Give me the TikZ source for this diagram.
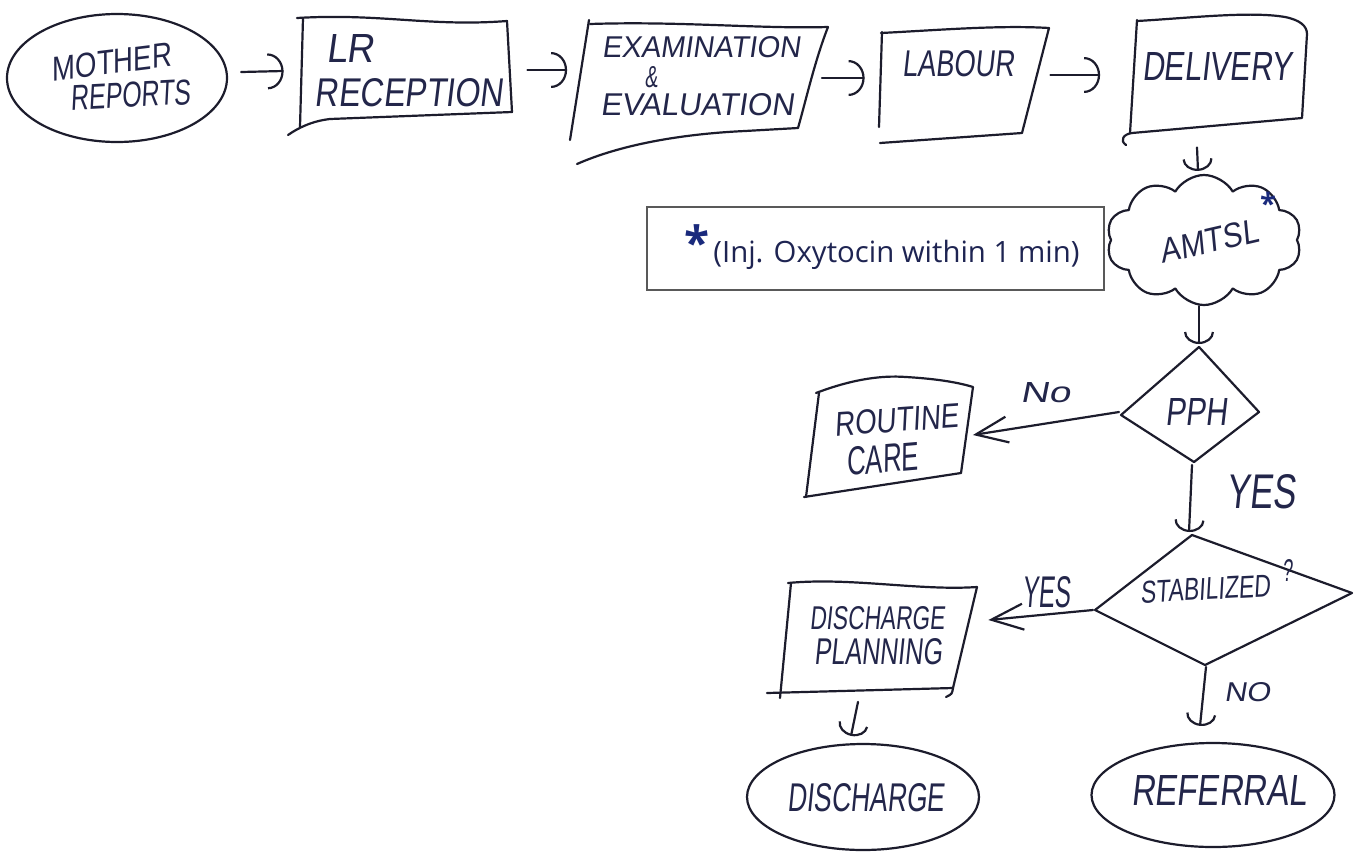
\documentclass[tikz,border=0pt]{standalone}
\usepackage{fontspec}
\usepackage{graphicx}
\newfontfamily\handfont{Liberation Sans}[FakeSlant=0.15]
\newfontfamily\notefont{Open Sans}
\usetikzlibrary{arrows.meta,shapes.geometric,shapes.symbols,calc}
\definecolor{ink}{HTML}{23264A}
\definecolor{pen}{HTML}{1C1C2C}
\definecolor{starblue}{HTML}{1A2A7C}
\definecolor{notetext}{HTML}{1E2452}
\newcommand{\hw}[3]{\resizebox{#1pt}{#2pt}{\handfont #3}}
\begin{document}
\begin{tikzpicture}[x=0.5pt,y=-0.5pt,
  pen/.style={draw=pen, line width=1.1pt, line cap=round, line join=round},
  flow/.style={pen, -{Arc Barb[length=8pt,width=18pt]}},
  down/.style={pen, -{Arc Barb[length=6pt,width=15pt]}},
  side/.style={pen, -{Straight Barb[length=16pt,width=13pt]}},
  hand/.style={inner sep=0pt, text=ink},
  anchorbox/.style={draw=none, inner sep=0pt, rectangle}]
\fill[white] (0,0) rectangle (1360,852);
\useasboundingbox (0,0) rectangle (1360,852);

% Mother reports
\node[pen, ellipse, minimum width=110pt, minimum height=64pt, inner sep=0] (mother) at (117,78) {};
\node[hand, rotate=7] (motherA) at (111,62) {\hw{60}{12}{MOTHER}};
\node[hand, rotate=3] (motherB) at (130,95) {\hw{60}{12.5}{REPORTS}};

% LR reception
\node[anchorbox, minimum width=104pt, minimum height=55pt] (lr) at (405,75) {};
\draw[pen] (303,18) -- (300,127);
\draw[pen] (297,18) .. controls (380,13) and (430,27) .. (507,21) -- (512,112) -- (330,119) .. controls (312,121) and (298,128) .. (288,135);
\node[hand] (lrA) at (350,48) {\hw{24}{14}{LR}};
\node[hand] (lrB) at (409,93) {\hw{94}{14}{RECEPTION}};
\draw[flow] ($(mother.east)+(13,-6)$) -- ($(lr.west)+(-17,-4)$);

% Examination & evaluation
\node[anchorbox, minimum width=126.5pt, minimum height=59pt] (exam) at (700,81) {};
\draw[pen] (589,20) -- (570,140);
\draw[pen] (590,24) .. controls (680,21) and (760,29) .. (828,27) .. controls (815,60) and (806,100) .. (798,128) -- (745,131) .. controls (680,134) and (620,145) .. (577,164);
\node[hand] (examA) at (701,47) {\hw{99}{10.5}{EXAMINATION}};
\node[hand] (examB) at (651,77) {\hw{6.5}{10.5}{\&}};
\node[hand] (examC) at (697,105) {\hw{96.5}{11}{EVALUATION}};
\draw[flow] ($(lr.east)+(18,-5)$) -- ($(exam.west)+(-6,-11)$);

% Labour
\node[anchorbox, minimum width=85pt, minimum height=55pt] (labour) at (965,85) {};
\draw[pen] (882,32) -- (879,127);
\draw[pen] (881,33) .. controls (940,30) and (1000,25) .. (1049,28) -- (1022,133) -- (880,143);
\node[hand] (labourA) at (958,64) {\hw{56}{13}{LABOUR}};
\draw[flow] ($(exam.east)+(-5,-3)$) -- ($(labour.west)+(-15,-7)$);

% Delivery
\node[anchorbox, minimum width=88.5pt, minimum height=61pt] (delivery) at (1218,78) {};
\draw[pen] (1137,20) -- (1130,133);
\draw[pen] (1137,21) .. controls (1190,18) and (1250,11) .. (1285,17) .. controls (1300,20) and (1307,26) .. (1307,34) -- (1302,118) -- (1132,133) .. controls (1124,134) and (1119,140) .. (1126,145);
\node[hand] (deliveryA) at (1217,66) {\hw{75}{14}{DELIVERY}};
\draw[flow] ($(labour.east)+(0,-10)$) -- ($(delivery.west)+(-29,-3)$);

% AMTSL cloud
\node[pen, cloud, cloud puffs=10, cloud puff arc=120, aspect=1.5, minimum width=97.5pt, minimum height=65pt, inner sep=0] (amtsl) at (1204,240) {};
\node[hand, rotate=13] (amtslA) at (1209,241) {\hw{50}{12}{AMTSL}};
\node[inner sep=0, text=starblue] (amtslS) at (1268,203) {\resizebox{8pt}{!}{\notefont\bfseries *}};
\draw[down] ($(delivery.south)+(-21,8)$) -- ($(amtsl.north)+(-6,-3)$);

% Note
\node[draw=black!65, line width=0.9pt, minimum width=228.5pt, minimum height=41.5pt, inner sep=0] (note) at (875.5,248.5) {};
\node[inner sep=0, text=starblue] (noteS) at (697,242) {\resizebox{12.5pt}{!}{\notefont\bfseries *}};
\node[inner sep=0, text=notetext, anchor=west] (noteT) at (713,255) {\resizebox{183pt}{!}{\notefont (Inj. Oxytocin within 1 min)}};

% PPH
\coordinate (pT) at (1199,347);
\coordinate (pR) at (1259,412);
\coordinate (pB) at (1194,462);
\coordinate (pL) at (1121,415);
\draw[pen] (pT) -- (pR) -- (pB) -- (pL) -- cycle;
\node[hand] (pph) at (1196,412) {\hw{31}{13.5}{PPH}};
\draw[down] ($(amtsl.south)+(-5,0)$) -- ($(pT)+(0,-3)$);

% Routine care
\node[anchorbox, minimum width=83.5pt, minimum height=58.5pt] (routine) at (890,437) {};
\draw[pen] (816,393) .. controls (850,380) and (880,375) .. (906,377) .. controls (940,379) and (960,383) .. (973,387) -- (961,473) -- (804,497);
\draw[pen] (819,393) -- (806,497);
\node[hand, rotate=4] (routineA) at (896,420) {\hw{62}{12}{ROUTINE}};
\node[hand, rotate=5] (routineB) at (882,459) {\hw{36}{14}{CARE}};
\draw[side] ($(pL)+(-2,-3)$) -- ($(routine.east)+(-1,-2)$);
\node[hand] (noA) at (1045,393) {\hw{25}{10}{No}};

% Stabilized
\coordinate (sT) at (1192,535);
\coordinate (sR) at (1352,593);
\coordinate (sB) at (1205,665);
\coordinate (sL) at (1095,610);
\draw[pen] (sT) -- (sR) -- (sB) -- (sL) -- cycle;
\node[hand, rotate=3] (stab) at (1205,589) {\hw{65}{11}{STABILIZED}};
\node[hand] (stabQ) at (1287,570) {\hw{5}{11}{?}};
\draw[down] ($(pB)+(-2,3)$) -- ($(sT)+(-3,-3)$);
\node[hand] (yesA) at (1261,492) {\hw{34.5}{17}{YES}};

% Discharge planning
\node[anchorbox, minimum width=105pt, minimum height=57.5pt] (dplan) at (872,640) {};
\draw[pen] (788,583) .. controls (850,577) and (920,591) .. (977,587) -- (953,688) -- (767,693);
\draw[pen] (953,688) .. controls (952,694) .. (946,697);
\draw[pen] (791,583) -- (780,698);
\node[hand] (dplanA) at (877,618) {\hw{67.5}{11.5}{DISCHARGE}};
\node[hand] (dplanB) at (878,652) {\hw{64}{13}{PLANNING}};
\draw[side] ($(sL)+(-2,0)$) -- ($(dplan.east)+(11,-20)$);
\node[hand] (yesB) at (1046,592) {\hw{24}{15.5}{YES}};

% Discharge
\node[pen, ellipse, minimum width=116pt, minimum height=53pt, inner sep=0] (dis) at (863,797) {};
\node[hand] (disA) at (866,798) {\hw{78.5}{14}{DISCHARGE}};
\draw[down] ($(dplan.south)+(-14,4)$) -- ($(dis.north)+(-12,-7)$);

% Referral
\node[pen, ellipse, minimum width=121.5pt, minimum height=52pt, inner sep=0] (ref) at (1213,795) {};
\node[hand] (refA) at (1219,790) {\hw{88}{15}{REFERRAL}};
\draw[down] ($(sB)+(1,2)$) -- ($(ref.north)+(-13,-16)$);
\node[hand] (noB) at (1247,692) {\hw{23}{9.5}{NO}};
\end{tikzpicture}
\end{document}
